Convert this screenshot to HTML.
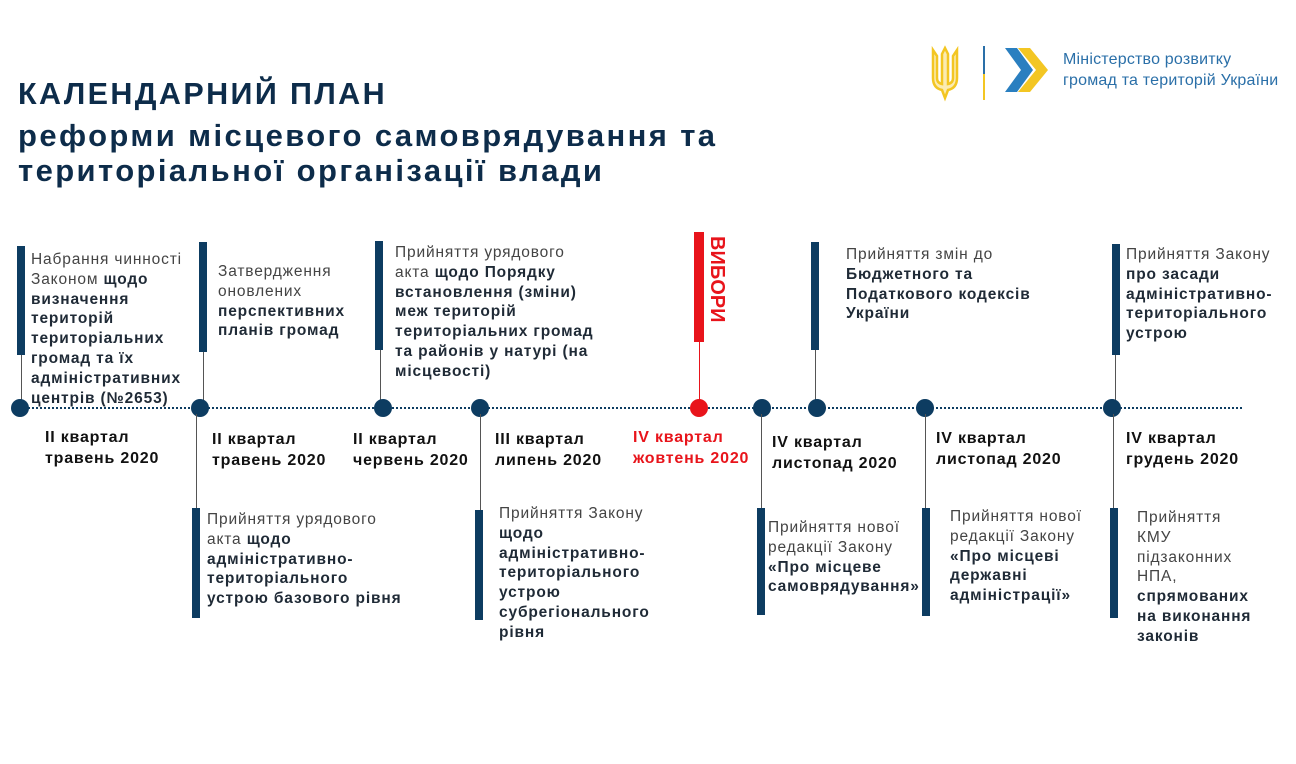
<!DOCTYPE html>
<html><head><meta charset="utf-8"><style>
body{margin:0;width:1296px;height:764px;background:#fff;position:relative;overflow:hidden;font-family:"Liberation Sans","DejaVu Sans",sans-serif;}
.a{position:absolute;}
.bar{position:absolute;background:#0d3c61;width:8px;}
.ln{position:absolute;background:#555;width:1px;}
.dot{position:absolute;width:18px;height:18px;border-radius:50%;background:#0d3c61;top:399px;}
.t{position:absolute;font-size:15.5px;line-height:19.8px;color:#444;letter-spacing:0.85px;white-space:nowrap;}
.t b{color:#1f2a36;}
.lb{position:absolute;font-size:16px;line-height:21px;font-weight:bold;color:#111;letter-spacing:0.8px;white-space:nowrap;}
.h{position:absolute;left:18px;color:#0d2c4a;font-weight:bold;letter-spacing:2.4px;white-space:nowrap;}
</style></head><body>
<div class="h" style="top:77px;font-size:30.5px;">КАЛЕНДАРНИЙ ПЛАН</div>
<div class="h" style="top:118px;font-size:31px;line-height:35px;">реформи місцевого самоврядування та<br>територіальної організації влади</div>

<!-- logo -->
<svg class="a" style="left:925px;top:40px" width="371" height="65">
<path d="M8 10 v28 q0 10 9 12 l3 8 l3-8 q9-2 9-12 v-28 l-4 6 v22 q0 5-5 6 v-30 l-3-6 l-3 6 v30 q-5-1-5-6 v-22z" fill="#f3c623" fill-opacity="0.35" stroke="#f3c623" stroke-width="2.5"/>
<rect x="58" y="6" width="2" height="28" fill="#2a6fa8"/><rect x="58" y="34" width="2" height="26" fill="#f3c623"/>
<path d="M80 8 h12 l16 22 l-16 22 h-12 l16-22z" fill="#2a7fc0"/>
<path d="M93 8 h12 l18 22 l-18 22 h-12 l18-22z" fill="#f3c623"/>
<text x="138" y="24" font-size="16" letter-spacing="0.2" fill="#2a6fa8" font-family="Liberation Sans,sans-serif">Міністерство розвитку</text>
<text x="138" y="45" font-size="16" letter-spacing="0.2" fill="#2a6fa8" font-family="Liberation Sans,sans-serif">громад та територій України</text>
</svg>

<!-- timeline -->
<div class="a" style="left:20px;top:407px;width:1222px;border-top:2px dotted #0d3c61;"></div>

<!-- 1 -->
<div class="bar" style="left:17px;top:246px;height:109px"></div><div class="ln" style="left:21px;top:355px;height:48px"></div>
<div class="dot" style="left:11px"></div>
<div class="t" style="left:31px;top:250px;">Набрання чинності<br>Законом <b>щодо<br>визначення<br>територій<br>територіальних<br>громад та їх<br>адміністративних<br>центрів (№2653)</b></div>
<div class="lb" style="left:45px;top:427px;">II квартал<br>травень 2020</div>

<!-- 2 -->
<div class="bar" style="left:199px;top:242px;height:110px"></div><div class="ln" style="left:203px;top:352px;height:50px"></div>
<div class="dot" style="left:191px"></div>
<div class="ln" style="left:196px;top:414px;height:94px"></div><div class="bar" style="left:192px;top:508px;height:110px"></div>
<div class="t" style="left:218px;top:262px;">Затвердження<br>оновлених<br><b>перспективних<br>планів громад</b></div>
<div class="t" style="left:207px;top:510px;">Прийняття урядового<br>акта <b>щодо<br>адміністративно-<br>територіального<br>устрою базового рівня</b></div>
<div class="lb" style="left:212px;top:429px;">II квартал<br>травень 2020</div>

<!-- 3 -->
<div class="bar" style="left:375px;top:241px;height:109px"></div><div class="ln" style="left:380px;top:350px;height:52px"></div>
<div class="dot" style="left:374px"></div>
<div class="t" style="left:395px;top:243px;">Прийняття урядового<br>акта <b>щодо Порядку<br>встановлення (зміни)<br>меж територій<br>територіальних громад<br>та районів у натурі (на<br>місцевості)</b></div>
<div class="lb" style="left:353px;top:429px;">II квартал<br>червень 2020</div>

<!-- 4 -->
<div class="dot" style="left:471px"></div>
<div class="ln" style="left:480px;top:414px;height:96px"></div><div class="bar" style="left:475px;top:510px;height:110px"></div>
<div class="t" style="left:499px;top:504px;">Прийняття Закону<br><b>щодо<br>адміністративно-<br>територіального<br>устрою<br>субрегіонального<br>рівня</b></div>
<div class="lb" style="left:495px;top:429px;">III квартал<br>липень 2020</div>

<!-- 5 red -->
<div class="a" style="left:694px;top:232px;width:10px;height:110px;background:#e8141b"></div>
<div class="a" style="left:699px;top:342px;width:1px;height:60px;background:#e8141b"></div>
<div class="dot" style="left:690px;background:#e8141b"></div>
<div class="a" style="left:707px;top:236px;writing-mode:vertical-rl;font-size:20px;font-weight:bold;color:#e8141b;line-height:20px;">ВИБОРИ</div>
<div class="lb" style="left:633px;top:427px;color:#e8141b;">IV квартал<br>жовтень 2020</div>

<!-- 6 -->
<div class="dot" style="left:753px"></div>
<div class="ln" style="left:761px;top:414px;height:94px"></div><div class="bar" style="left:757px;top:508px;height:107px"></div>
<div class="t" style="left:768px;top:518px;">Прийняття нової<br>редакції Закону<br><b>«Про місцеве<br>самоврядування»</b></div>
<div class="lb" style="left:772px;top:432px;">IV квартал<br>листопад 2020</div>

<!-- 7 -->
<div class="bar" style="left:811px;top:242px;height:108px"></div><div class="ln" style="left:815px;top:350px;height:52px"></div>
<div class="dot" style="left:808px"></div>
<div class="t" style="left:846px;top:245px;">Прийняття змін до<br><b>Бюджетного та<br>Податкового кодексів<br>України</b></div>

<!-- 8 -->
<div class="dot" style="left:916px"></div>
<div class="ln" style="left:925px;top:414px;height:94px"></div><div class="bar" style="left:922px;top:508px;height:108px"></div>
<div class="t" style="left:950px;top:507px;">Прийняття нової<br>редакції Закону<br><b>«Про місцеві<br>державні<br>адміністрації»</b></div>
<div class="lb" style="left:936px;top:428px;">IV квартал<br>листопад 2020</div>

<!-- 9 -->
<div class="bar" style="left:1112px;top:244px;height:111px"></div><div class="ln" style="left:1115px;top:355px;height:48px"></div>
<div class="dot" style="left:1103px"></div>
<div class="ln" style="left:1113px;top:414px;height:94px"></div><div class="bar" style="left:1110px;top:508px;height:110px"></div>
<div class="t" style="left:1126px;top:245px;">Прийняття Закону<br><b>про засади<br>адміністративно-<br>територіального<br>устрою</b></div>
<div class="t" style="left:1137px;top:508px;">Прийняття<br>КМУ<br>підзаконних<br>НПА,<br><b>спрямованих<br>на виконання<br>законів</b></div>
<div class="lb" style="left:1126px;top:428px;">IV квартал<br>грудень 2020</div>
</body></html>
